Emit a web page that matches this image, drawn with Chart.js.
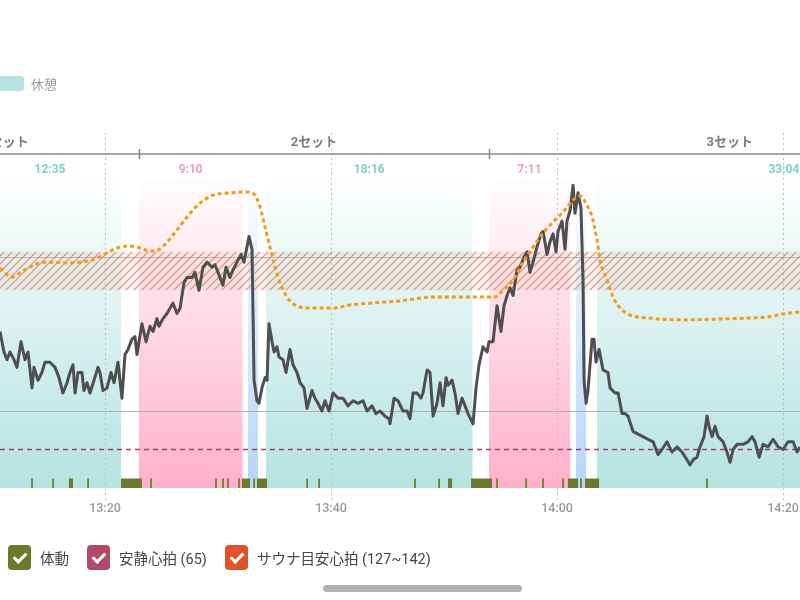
<!DOCTYPE html>
<html lang="ja">
<head>
<meta charset="utf-8">
<title>心拍グラフ</title>
<script src="https://cdn.jsdelivr.net/npm/chart.js@4.4.1/dist/chart.umd.min.js"></script>
<style>
  body { margin: 0; background: #fff; font-family: Roboto, "Noto Sans CJK JP", sans-serif; }
  #wrap { position: relative; width: 800px; height: 600px; overflow: hidden; }
  #chartBox { position: absolute; left: 0; top: 0; width: 800px; height: 600px; }
  .rest-legend { position: absolute; left: -6px; top: 74px; display: flex; align-items: center; color: #9a9a9a; font-size: 13px; }
  .rest-legend .sw { width: 30px; height: 15px; border-radius: 3px; background: #b4e3e0; margin-right: 7px; }
  .legend { position: absolute; top: 545px; left: 8px; display: flex; align-items: center; font-size: 14.5px; color: #444; }
  .legend .item { display: flex; align-items: center; margin-right: 18px; }
  .cb { position: relative; width: 23px; height: 25px; border-radius: 4px; margin-right: 9px; }
  .cb::after { content: ''; position: absolute; left: 8px; top: 5px; width: 5px; height: 10px; border: solid #fff; border-width: 0 3px 3px 0; transform: rotate(45deg); }
  .scrollbar { position: absolute; left: 323px; top: 585px; width: 199px; height: 7px; border-radius: 4px; background: #b3b3b3; }
</style>
</head>
<body>
<div id="wrap">
  <div id="chartBox"><canvas id="hrChart"></canvas></div>
  <div class="rest-legend"><div class="sw"></div>休憩</div>
  <div class="legend">
    <div class="item"><span class="cb" style="background:#6b7a2b"></span>体動</div>
    <div class="item"><span class="cb" style="background:#b44868"></span>安静心拍 (65)</div>
    <div class="item"><span class="cb" style="background:#e0532a"></span>サウナ目安心拍 (127~142)</div>
  </div>
  <div class="scrollbar"></div>
</div>
<script>
// 時刻は 13:00 からの経過分
const xTickValues = [20, 40, 60, 80];
const xTickLabels = ["13:20", "13:40", "14:00", "14:20"];
const yGridValues = [80, 140];
const restingHr = 65;
const saunaZone = [127, 142];

// 心拍
const hrMinutes = [
  10.71, 11.06, 11.33, 11.59, 11.95, 12.21, 12.57, 12.92, 13.19, 13.54, 13.72, 14.07, 14.42, 14.69, 15.13, 15.58,
  15.93, 16.28, 16.64, 16.90, 17.17, 17.35, 17.61, 17.96, 18.14, 18.41, 18.67, 19.03, 19.38, 19.56, 19.82, 20.18,
  20.53, 20.80, 21.15, 21.50, 21.77, 22.04, 22.39, 22.65, 22.83, 23.27, 23.63, 23.98, 24.25, 24.60, 24.78, 25.13,
  25.49, 25.75, 26.02, 26.37, 26.64, 26.99, 27.26, 27.70, 27.96, 28.32, 28.67, 29.03, 29.47, 29.73, 30.00, 30.44,
  30.71, 31.06, 31.33, 31.68, 32.04, 32.30, 32.57, 32.74, 33.01, 33.10, 33.19, 33.45, 33.63, 33.89, 34.16, 34.34,
  34.51, 34.78, 34.96, 35.22, 35.40, 35.75, 36.02, 36.37, 36.64, 36.99, 37.26, 37.61, 37.88, 38.32, 38.58, 38.85,
  39.20, 39.47, 39.82, 40.18, 40.62, 41.06, 41.50, 41.95, 42.39, 42.83, 43.19, 43.63, 43.98, 44.34, 44.78, 45.13,
  45.22, 45.58, 45.93, 46.37, 46.73, 46.99, 47.26, 47.61, 47.96, 48.14, 48.50, 48.76, 49.03, 49.38, 49.65, 49.91,
  50.18, 50.35, 50.71, 50.97, 51.24, 51.59, 51.86, 52.12, 52.57, 52.83, 53.10, 53.45, 53.81, 53.98, 54.34, 54.51,
  54.69, 55.04, 55.31, 55.58, 55.84, 56.11, 56.46, 56.73, 57.08, 57.35, 57.61, 57.88, 58.23, 58.58, 58.76, 59.12,
  59.38, 59.65, 59.91, 60.09, 60.44, 60.71, 60.88, 61.15, 61.42, 61.59, 61.86, 62.12, 62.30, 62.39, 62.57, 62.74,
  63.10, 63.27, 63.45, 63.72, 64.07, 64.51, 64.69, 65.13, 65.40, 65.75, 66.02, 66.28, 66.73, 67.17, 67.61, 68.05,
  68.50, 68.94, 69.29, 69.73, 70.18, 70.62, 71.06, 71.50, 71.77, 72.04, 72.39, 72.65, 73.01, 73.27, 73.45, 73.72,
  73.98, 74.25, 74.69, 75.04, 75.31, 75.58, 75.93, 76.46, 76.90, 77.26, 77.52, 77.88, 78.23, 78.67, 79.12, 79.56,
  80.00, 80.44, 80.89, 81.24, 81.50
];
const hrBpm = [
  111, 103, 100, 103, 100, 97, 107, 100, 103, 89, 97, 92, 95, 99, 99, 97,
  93, 87, 91, 95, 98, 87, 95, 95, 88, 91, 87, 92, 97, 95, 88, 89,
  95, 91, 99, 85, 102, 104, 108, 109, 102, 114, 107, 113, 111, 116, 113, 116,
  118, 120, 122, 118, 120, 130, 132, 132, 134, 127, 136, 138, 136, 137, 134, 129,
  136, 132, 135, 138, 141, 138, 144, 148, 143, 118, 92, 84, 83, 89, 93, 92,
  114, 107, 103, 105, 101, 100, 95, 104, 98, 95, 91, 89, 81, 88, 85, 83,
  80, 84, 80, 87, 85, 85, 82, 84, 83, 84, 80, 82, 79, 80, 78, 77,
  75, 85, 84, 80, 80, 77, 87, 87, 85, 87, 96, 95, 78, 83, 91, 82,
  93, 90, 92, 87, 79, 85, 82, 79, 75, 89, 98, 105, 103, 107, 107, 114,
  121, 111, 121, 125, 128, 125, 135, 136, 140, 142, 134, 138, 144, 149, 150, 141,
  146, 149, 142, 150, 154, 143, 154, 158, 168, 157, 165, 159, 131, 92, 83, 88,
  108, 108, 99, 104, 96, 95, 89, 87, 87, 79, 79, 78, 72, 71, 70, 69,
  68, 63, 65, 68, 64, 66, 64, 61, 59, 61, 62, 66, 70, 78, 74, 70,
  74, 70, 68, 64, 60, 65, 67, 67, 68, 70, 68, 62, 67, 66, 69, 66,
  65, 68, 68, 64, 66
];

// オレンジの点線
const trendMinutes = [
  10.71, 11.77, 12.48, 13.36, 14.25, 15.13, 16.64, 18.41, 19.29, 20.18, 21.06, 22.21, 23.10, 23.98, 24.69, 25.49,
  26.37, 27.26, 28.41, 29.56, 30.80, 32.57, 33.27, 33.72, 34.16, 34.60, 35.04, 35.49, 36.11, 36.81, 38.14, 40.18,
  41.68, 43.72, 46.11, 49.03, 52.04, 54.51, 55.22, 56.11, 56.99, 57.88, 58.76, 59.65, 60.53, 61.42, 62.04, 62.65,
  63.10, 63.54, 63.81, 64.42, 64.96, 65.58, 66.46, 68.23, 71.15, 74.16, 76.81, 78.58, 80.00, 81.50
];
const trendValues = [
  135.7, 132.2, 133.8, 136.1, 137.7, 138.0, 137.7, 138.4, 139.6, 141.6, 143.5, 144.3, 143.5, 142.3, 142.7, 145.8,
  150.5, 155.6, 161.0, 164.1, 164.9, 165.3, 164.1, 159.5, 151.7, 143.9, 136.1, 129.9, 124.4, 121.3, 120.1, 120.1,
  121.3, 122.1, 122.9, 124.4, 124.4, 124.4, 127.1, 131.0, 138.0, 143.9, 149.3, 153.6, 157.5, 162.2, 163.8, 160.2,
  155.6, 146.6, 138.8, 131.0, 124.4, 120.1, 117.4, 116.2, 115.5, 115.8, 116.2, 116.6, 117.8, 118.6
];

// 区間
const restStart = [8.84, 34.25, 63.54];
const restEnd = [21.42, 52.52, 96.6];
const restLabels = ["12:35", "18:16", "33:04"];
const saunaStart = [23.0, 53.98];
const saunaEnd = [32.17, 61.16];
const saunaLabels = ["9:10", "7:11"];
const bathStart = [32.65, 61.68];
const bathEnd = [33.54, 62.57];
const setStart = [-0.6, 23.0, 53.98];
const setEnd = [23.0, 53.98, 96.6];
const setLabels = ["1セット", "2セット", "3セット"];

// 体動
const motionStart = [13.47, 15.33, 16.80, 18.43, 21.42, 24.00, 29.75, 30.37, 30.81, 31.79, 32.12, 33.12, 33.45, 37.81,
  38.87, 47.36, 49.49, 50.35, 52.39, 54.62, 57.19, 58.69, 60.46, 60.97, 62.05, 62.48, 73.20];
const motionEnd = [13.62, 15.48, 17.17, 18.58, 23.27, 24.15, 29.90, 30.52, 30.96, 31.94, 32.83, 33.27, 34.34, 37.96,
  39.02, 47.51, 49.64, 50.71, 54.25, 54.77, 57.34, 58.84, 60.61, 61.86, 62.20, 63.72, 73.35];

const xMin = 10.71;
const xMax = 81.5;

// ハッチング模様
function makeHatch() {
    const c = document.createElement("canvas");
    c.width = 8;
    c.height = 8;
    const p = c.getContext("2d");
    p.fillStyle = "rgba(220,200,190,0.25)";
    p.fillRect(0, 0, 8, 8);
    p.strokeStyle = "rgba(214,112,78,0.72)";
    p.lineWidth = 1.1;
    p.beginPath();
    p.moveTo(0, 8); p.lineTo(8, 0);
    p.moveTo(-1, 1); p.lineTo(1, -1);
    p.moveTo(7, 9); p.lineTo(9, 7);
    p.stroke();
    return p.createPattern(c, "repeat");
}

function vertGradient(chart, rgb) {
    const a = chart.chartArea;
    const g = chart.ctx.createLinearGradient(0, a.top, 0, a.bottom);
    g.addColorStop(0, `rgba(${rgb},0.03)`);
    g.addColorStop(1, `rgba(${rgb},1)`);
    return g;
}

const phasePlugin = {
    id: "phases",
    beforeDraw(chart) {
        const { ctx, chartArea: a, scales: { x } } = chart;
        ctx.save();
        ctx.beginPath();
        ctx.rect(a.left, a.top, a.width, a.height);
        ctx.clip();
        const spans = (starts, ends, rgb) => {
            ctx.fillStyle = vertGradient(chart, rgb);
            starts.forEach((s, i) => {
                const x0 = x.getPixelForValue(s);
                const x1 = x.getPixelForValue(ends[i]);
                ctx.fillRect(x0, a.top, x1 - x0, a.height);
            });
        };
        spans(restStart, restEnd, "180,227,224");
        spans(saunaStart, saunaEnd, "255,176,202");
        spans(bathStart, bathEnd, "180,214,248");
        ctx.restore();
    },
    beforeDatasetsDraw(chart) {
        const { ctx, chartArea: a, scales: { x } } = chart;
        ctx.save();
        // 時刻の点線
        ctx.strokeStyle = "#bdbdbd";
        ctx.lineWidth = 1;
        ctx.setLineDash([2, 3]);
        xTickValues.forEach(v => {
            const px = Math.round(x.getPixelForValue(v)) + 0.5;
            ctx.beginPath();
            ctx.moveTo(px, a.top - 47);
            ctx.lineTo(px, a.bottom + 15);
            ctx.stroke();
        });
        ctx.setLineDash([]);
        // 体動
        ctx.fillStyle = "#6b7a2b";
        motionStart.forEach((s, i) => {
            const x0 = x.getPixelForValue(s);
            const x1 = x.getPixelForValue(motionEnd[i]);
            ctx.fillRect(x0, a.bottom - 9.5, Math.max(x1 - x0, 1.6), 9.5);
        });
        ctx.restore();
    },
    afterDraw(chart) {
        const { ctx, chartArea: a, scales: { x } } = chart;
        ctx.save();
        // セット行
        const lineY = a.top - 26;
        ctx.strokeStyle = "#8a8a8a";
        ctx.lineWidth = 1.5;
        ctx.beginPath();
        ctx.moveTo(0, lineY);
        ctx.lineTo(chart.width, lineY);
        setStart.forEach(s => {
            const px = Math.round(x.getPixelForValue(s)) + 0.5;
            ctx.moveTo(px, lineY - 5);
            ctx.lineTo(px, lineY + 5);
        });
        ctx.stroke();
        ctx.fillStyle = "#7d7d7d";
        ctx.font = "bold 13px Roboto, 'Noto Sans CJK JP'";
        ctx.textAlign = "center";
        ctx.textBaseline = "middle";
        setLabels.forEach((t, i) => {
            const cx = (x.getPixelForValue(setStart[i]) + x.getPixelForValue(setEnd[i])) / 2;
            ctx.fillText(t, cx, a.top - 37);
        });
        // 経過時間
        ctx.font = "bold 12px Roboto";
        const durY = a.top - 10;
        ctx.fillStyle = "#7fcfca";
        restLabels.forEach((t, i) => {
            const cx = (x.getPixelForValue(restStart[i]) + x.getPixelForValue(restEnd[i])) / 2;
            ctx.fillText(t, cx, durY);
        });
        ctx.fillStyle = "#eda2b2";
        saunaLabels.forEach((t, i) => {
            const cx = (x.getPixelForValue(saunaStart[i]) + x.getPixelForValue(saunaEnd[i])) / 2;
            ctx.fillText(t, cx, durY);
        });
        ctx.restore();
    }
};

const hatch = makeHatch();
const hrPoints = hrMinutes.map((m, i) => ({ x: m, y: hrBpm[i] }));
const trendPoints = trendMinutes.map((m, i) => ({ x: m, y: trendValues[i] }));
const flat = v => [{ x: xMin, y: v }, { x: xMax, y: v }];

new Chart(document.getElementById("hrChart"), {
    type: "line",
    data: {
        datasets: [
            { label: "zoneTop", data: flat(saunaZone[1]), borderColor: "transparent", pointRadius: 0, fill: false, order: 4 },
            { label: "サウナ目安心拍", data: flat(saunaZone[0]), borderColor: "transparent", backgroundColor: hatch, pointRadius: 0, fill: "-1", order: 3 },
            { label: "安静心拍", data: flat(restingHr), borderColor: "#a3406a", borderWidth: 1.5, borderDash: [5, 4], pointRadius: 0, order: 2 },
            { label: "心拍", data: hrPoints, borderColor: "#4f4f4f", borderWidth: 3, pointRadius: 0, tension: 0, borderJoinStyle: "round", order: 1 },
            { label: "trend", data: trendPoints, borderColor: "#f29c1f", borderWidth: 3, borderDash: [4, 3], pointRadius: 0, cubicInterpolationMode: "monotone", order: 0 },
        ],
    },
    options: {
        responsive: true,
        maintainAspectRatio: false,
        animation: false,
        layout: { padding: { top: 180, bottom: 71, left: 0, right: 0 } },
        plugins: { legend: { display: false }, tooltip: { enabled: false } },
        scales: {
            x: {
                type: "linear",
                min: xMin,
                max: xMax,
                grid: { display: false, drawTicks: false },
                border: { display: false },
                afterBuildTicks: s => { s.ticks = xTickValues.map(v => ({ value: v })); },
                afterFit: s => { s.paddingLeft = 0; s.paddingRight = 0; },
                ticks: {
                    padding: 13,
                    color: "#9b9b9b",
                    font: { family: "Roboto", size: 12.5, weight: "500" },
                    maxRotation: 0,
                    autoSkip: false,
                    callback: v => xTickLabels[xTickValues.indexOf(v)],
                },
            },
            y: {
                min: 50,
                max: 170,
                grid: { color: "#b3b3b3", drawTicks: false },
                border: { display: false },
                afterBuildTicks: s => { s.ticks = yGridValues.map(v => ({ value: v })); },
                afterFit: s => { s.width = 0; },
                ticks: { display: false },
            },
        },
    },
    plugins: [phasePlugin],
});
</script>
</body>
</html>
